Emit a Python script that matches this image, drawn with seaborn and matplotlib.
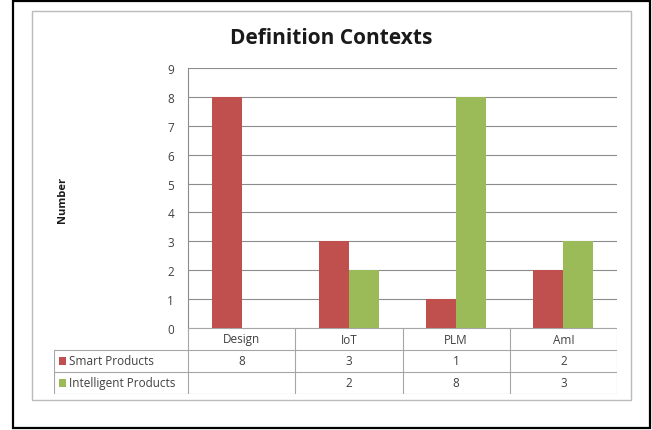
import numpy as np
import pandas as pd
import matplotlib
matplotlib.use("Agg")
import matplotlib.pyplot as plt
from matplotlib.patches import Rectangle
import seaborn as sns

# Data
categories = ["Design", "IoT", "PLM", "AmI"]
series_names = ["Smart Products", "Intelligent Products"]
smart_products = [8, 3, 1, 2]
intelligent_products = [np.nan, 2, 8, 3]
y_ticks = list(range(0, 10))

colors = ["#C0504D", "#9BBB59"]
grid_color = "#8C8C8C"
table_line = "#A6A6A6"
text_color = "#404040"

df = pd.DataFrame({
    "Context": categories * 2,
    "Series": [series_names[0]] * len(categories) + [series_names[1]] * len(categories),
    "Count": smart_products + intelligent_products,
})

sns.set_style("white")
plt.rcParams["font.family"] = ["Open Sans", "DejaVu Sans"]

W, H = 652, 431
fig = plt.figure(figsize=(W / 100, H / 100), dpi=100)


def fx(px):
    return px / W


def fy(py):
    return 1 - py / H


# Outer black border and inner grey chart frame
fig.patches.append(Rectangle((fx(13), fy(429)), fx(650) - fx(13), fy(2) - fy(429),
                             transform=fig.transFigure, fill=False, edgecolor="black",
                             linewidth=1.6))
fig.patches.append(Rectangle((fx(32), fy(401)), fx(631) - fx(32), fy(12) - fy(401),
                             transform=fig.transFigure, fill=False, edgecolor="#BBBBBB",
                             linewidth=1.0))

# Plot area
left, right, top, bottom = 188, 617, 69, 329
ax = fig.add_axes([fx(left), fy(bottom), fx(right) - fx(left), fy(top) - fy(bottom)])
sns.barplot(data=df, x="Context", y="Count", hue="Series", palette=colors,
            width=0.56, saturation=1, errorbar=None, legend=False, ax=ax,
            linewidth=0, edgecolor="none")
ax.set_xlim(-0.5, len(categories) - 0.5)
ax.set_ylim(0, 9)
ax.set_yticks(y_ticks)
ax.set_yticklabels([str(t) for t in y_ticks], fontsize=8.5, color=text_color)
ax.set_xticks([])
ax.set_xlabel("")
ax.set_ylabel("")
ax.yaxis.grid(True, color=grid_color, linewidth=0.8)
ax.set_axisbelow(True)
ax.tick_params(axis="y", length=4, color=grid_color, width=0.8, pad=6)
for side in ["top", "right", "bottom"]:
    ax.spines[side].set_visible(False)
ax.spines["left"].set_color(grid_color)
ax.spines["left"].set_linewidth(0.8)

# Data table below the plot area
tbl_left, tbl_top, tbl_bottom = 54, 329, 395
tab = fig.add_axes([fx(tbl_left), fy(tbl_bottom), fx(right) - fx(tbl_left), fy(tbl_top) - fy(tbl_bottom)])
cat_w_px = (right - left) / len(categories)
extra = (left - tbl_left) / cat_w_px
x0 = -0.5 - extra
tab.set_xlim(x0, len(categories) - 0.5)
tab.set_ylim(3, 0)
tab.axis("off")

n = len(categories)
# horizontal lines
tab.plot([-0.5, n - 0.5], [0, 0], color=table_line, lw=0.8)
for yv in [1, 2, 3]:
    tab.plot([x0, n - 0.5], [yv, yv], color=table_line, lw=0.8)
# vertical lines
for xv in np.arange(-0.5, n, 1.0):
    tab.plot([xv, xv], [0, 3], color=table_line, lw=0.8)
tab.plot([x0, x0], [1, 3], color=table_line, lw=0.8)

for i, c in enumerate(categories):
    tab.text(i, 0.5, c, ha="center", va="center", fontsize=8.5, color=text_color)

for r, (name, vals, col) in enumerate(zip(series_names, [smart_products, intelligent_products], colors)):
    yc = 1.5 + r
    tab.add_patch(Rectangle((x0 + 0.045, yc - 0.2), 0.065, 0.4, color=col, lw=0))
    tab.text(x0 + 0.14, yc, name, ha="left", va="center", fontsize=8.5, color=text_color)
    for i, v in enumerate(vals):
        if not np.isnan(v):
            tab.text(i, yc, f"{int(v)}", ha="center", va="center", fontsize=8.5, color=text_color)

# Title and axis label
fig.text(fx(331), fy(38), "Definition Contexts", ha="center", va="center",
         fontsize=15, fontweight="bold", color="#1a1a1a")
fig.text(fx(62), fy(200), "Number", ha="center", va="center", rotation=90,
         fontsize=8, fontweight="bold", color="#1a1a1a")

fig.savefig("out.png", dpi=100)
